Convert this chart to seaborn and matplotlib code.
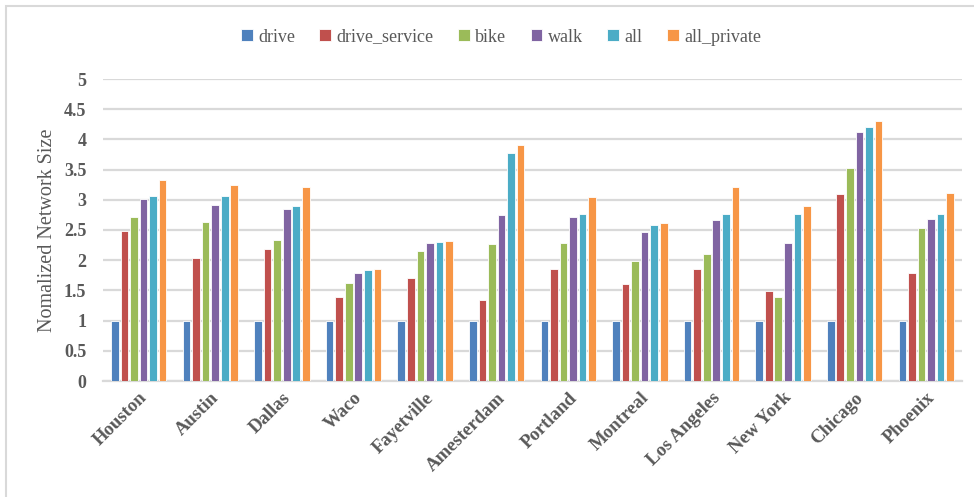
import matplotlib
matplotlib.use("Agg")
import matplotlib.pyplot as plt
from matplotlib.patches import Rectangle
import seaborn as sns
import pandas as pd

cities = ["Houston", "Austin", "Dallas", "Waco", "Fayetville", "Amesterdam",
          "Portland", "Montreal", "Los Angeles", "New York", "Chicago", "Phoenix"]
networks = ["drive", "drive_service", "bike", "walk", "all", "all_private"]

drive = [1, 1, 1, 1, 1, 1, 1, 1, 1, 1, 1, 1]
drive_service = [2.49, 2.04, 2.19, 1.39, 1.70, 1.34, 1.86, 1.60, 1.86, 1.49, 3.10, 1.79]
bike = [2.72, 2.63, 2.33, 1.63, 2.16, 2.26, 2.28, 1.98, 2.11, 1.39, 3.52, 2.53]
walk = [3.02, 2.91, 2.84, 1.78, 2.28, 2.75, 2.72, 2.46, 2.67, 2.28, 4.13, 2.69]
all_net = [3.07, 3.07, 2.89, 1.83, 2.30, 3.77, 2.77, 2.58, 2.77, 2.77, 4.21, 2.77]
all_private = [3.32, 3.25, 3.21, 1.86, 2.31, 3.91, 3.04, 2.61, 3.22, 2.89, 4.31, 3.12]

colors = ["#4F81BD", "#C0504D", "#9BBB59", "#8064A2", "#4BACC6", "#F79646"]

series = [drive, drive_service, bike, walk, all_net, all_private]
rows = []
for name, vals in zip(networks, series):
    for city, v in zip(cities, vals):
        rows.append({"city": city, "network": name, "size": v})
df = pd.DataFrame(rows)

sns.set_theme(style="white")
plt.rcParams["font.family"] = ["Liberation Serif", "DejaVu Serif"]

fig = plt.figure(figsize=(9.74, 4.97), dpi=100)
ax = fig.add_axes([103 / 974, 1 - 381 / 497, (962 - 103) / 974, (381 - 79) / 497])

sns.barplot(data=df, x="city", y="size", hue="network", order=cities,
            hue_order=networks, palette=colors, width=0.8, gap=0.2,
            edgecolor="white", linewidth=0.6, saturation=1, ax=ax, zorder=3)

grid_c = "#D9D9D9"
text_c = "#595959"
ax.set_ylim(0, 5)
ax.set_yticks([0, 0.5, 1, 1.5, 2, 2.5, 3, 3.5, 4, 4.5, 5])
ax.set_yticklabels(["0", "0.5", "1", "1.5", "2", "2.5", "3", "3.5", "4", "4.5", "5"])
ax.set_xlim(-0.5, len(cities) - 0.5)
ax.yaxis.grid(True, color=grid_c, linewidth=1.6, zorder=0)
ax.set_axisbelow(True)
for s in ["top", "right", "left"]:
    ax.spines[s].set_visible(False)
ax.spines["bottom"].set_color(grid_c)
ax.spines["bottom"].set_linewidth(1.6)
ax.tick_params(axis="both", length=0)
ax.tick_params(axis="y", pad=12, labelsize=13, labelcolor=text_c)
ax.tick_params(axis="x", pad=6, labelsize=13.5, labelcolor=text_c)
for lbl in ax.get_yticklabels():
    lbl.set_fontweight("bold")
for lbl in ax.get_xticklabels():
    lbl.set_fontweight("bold")
    lbl.set_rotation(45)
    lbl.set_ha("right")
    lbl.set_rotation_mode("anchor")

ax.set_xlabel("")
ax.set_ylabel("Nomalized Network Size", fontsize=14.5, color=text_c, labelpad=5)

handles, labels = ax.get_legend_handles_labels()
ax.legend(handles, labels, loc="center", bbox_to_anchor=(501 / 974, 1 - 37 / 497),
          bbox_transform=fig.transFigure, ncol=6, frameon=False,
          fontsize=13, labelcolor=text_c, handlelength=0.65, handleheight=0.65,
          handletextpad=0.3, columnspacing=1.35)

# chart frame
fig.patches.append(Rectangle((6 / 974, -0.1), 1.2, 1 - 6 / 497 + 0.1,
                             transform=fig.transFigure, fill=False,
                             edgecolor=grid_c, linewidth=1.5))

fig.savefig("out.png", dpi=100)
